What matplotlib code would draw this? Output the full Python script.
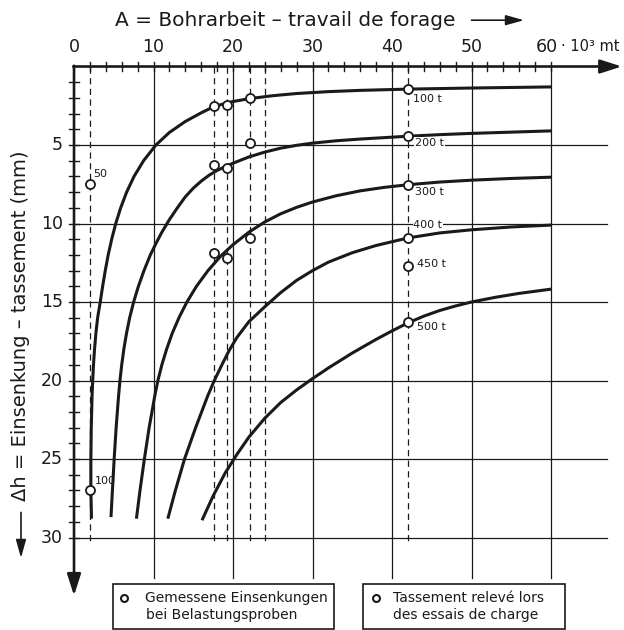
import matplotlib
matplotlib.use("Agg")
import matplotlib.pyplot as plt
from matplotlib.patches import Rectangle

plt.rcParams['font.family'] = ['DejaVu Sans']

# ---------------- data (A in 10^3 mt, settlement in mm) ----------------
x_tick_values = [0, 10, 20, 30, 40, 50, 60]
x_unit_label = "· 10³ mt"
y_tick_values = [5, 10, 15, 20, 25, 30]

c100_x = [2.2, 2.12, 2.12, 2.17, 2.27, 2.35, 2.45, 2.58, 2.75, 2.97, 3.3, 3.6, 3.93, 4.3, 4.74,
          5.25, 5.87, 6.62, 7.55, 8.75, 10.3, 12.0, 14.0, 16.0, 17.0, 18.0, 19.0, 20.0, 22.0,
          25.0, 28.0, 32.0, 36.0, 42.0, 50.0, 60.0]
c100_y = [28.8, 27.0, 25.0, 23.0, 21.0, 20.0, 19.0, 18.0, 17.0, 16.0, 15.0, 14.0, 13.0, 12.0, 11.0,
          10.0, 9.0, 8.0, 7.0, 6.0, 5.0, 4.2, 3.5, 2.95, 2.7, 2.5, 2.35, 2.23, 2.05,
          1.86, 1.72, 1.6, 1.52, 1.44, 1.37, 1.3]

c200_x = [4.65, 4.83, 5.05, 5.3, 5.6, 5.78, 6.0, 6.27, 6.6, 7.0, 7.5, 8.1, 8.8, 9.6, 10.3,
          11.0, 12.0, 13.0, 14.0, 15.0, 16.0, 17.0, 18.0, 19.0, 20.0, 22.0, 24.0, 26.0, 28.0,
          30.0, 33.0, 36.0, 40.0, 42.0, 46.0, 50.0, 55.0, 60.0]
c200_y = [28.7, 27.0, 25.0, 23.0, 21.0, 20.0, 19.0, 18.0, 17.0, 16.0, 15.0, 14.0, 13.0, 12.0, 11.28,
          10.6, 9.75, 9.0, 8.3, 7.75, 7.3, 6.92, 6.62, 6.38, 6.16, 5.76, 5.45, 5.2, 5.02,
          4.88, 4.73, 4.62, 4.5, 4.44, 4.34, 4.26, 4.18, 4.1]

c300_x = [7.85, 8.3, 8.85, 9.45, 10.15, 10.55, 11.05, 11.65, 12.35, 13.2, 14.2, 15.4, 16.85,
          18.5, 20.0, 22.0, 24.0, 26.0, 28.0, 30.0, 33.0, 36.0, 39.0, 42.0, 46.0, 50.0, 55.0, 60.0]
c300_y = [28.8, 27.0, 25.0, 23.0, 21.0, 20.0, 19.0, 18.0, 17.0, 16.0, 15.0, 14.0, 13.0,
          12.05, 11.35, 10.55, 9.9, 9.38, 8.97, 8.63, 8.23, 7.92, 7.7, 7.53, 7.36, 7.24, 7.13, 7.05]

c400_x = [11.8, 12.75, 13.9, 15.3, 16.8, 17.65, 18.6, 19.5, 20.5, 22.0, 24.0, 26.0, 28.0, 30.0,
          32.0, 35.0, 38.0, 42.0, 46.0, 50.0, 55.0, 60.0]
c400_y = [28.8, 27.0, 25.0, 23.0, 21.0, 20.0, 19.0, 18.1, 17.25, 16.25, 15.3, 14.4, 13.62, 13.0,
          12.46, 11.86, 11.4, 10.92, 10.6, 10.4, 10.22, 10.1]

c500_x = [16.1, 17.5, 19.0, 20.5, 22.0, 24.0, 26.0, 28.0, 30.0, 32.0, 35.0, 38.0, 40.0, 42.0,
          44.0, 46.0, 48.0, 50.0, 53.0, 56.0, 60.0]
c500_y = [28.9, 27.35, 25.9, 24.7, 23.6, 22.4, 21.4, 20.6, 19.88, 19.2, 18.25, 17.38, 16.84, 16.33,
          15.9, 15.54, 15.25, 15.0, 14.7, 14.45, 14.18]

curve_labels = ["100 t", "200 t", "300 t", "400 t", "450 t", "500 t"]

meas_A = [2.0, 2.0, 17.6, 17.6, 17.6, 19.2, 19.2, 19.2, 22.1, 22.1, 22.1, 42.0, 42.0, 42.0, 42.0, 42.0, 42.0]
meas_dh = [7.5, 27.0, 2.5, 6.3, 11.9, 2.45, 6.45, 12.2, 2.0, 4.9, 10.9, 1.45, 4.42, 7.55, 10.9, 12.7, 16.3]
pile_labels = ["50", "100"]

dashed_A = [2.0, 17.6, 19.2, 22.1, 24.0, 42.0]

title = "A = Bohrarbeit – travail de forage"
ylabel = "Δh = Einsenkung – tassement (mm)"
legend_de = ["Gemessene Einsenkungen", "bei Belastungsproben"]
legend_fr = ["Tassement relevé lors", "des essais de charge"]

# ---------------- figure ----------------
K = '#1a1a1a'
fig = plt.figure(figsize=(6.24, 6.30), dpi=100)
ax = fig.add_axes([0, 0, 1, 1])
ax.set_xlim(-9.31, 69.18)
ax.set_ylim(35.89, -4.236)
ax.axis('off')

# grid
for xv in x_tick_values[1:]:
    ax.plot([xv, xv], [0, 32.6], color=K, lw=0.9, zorder=1)
for yv in y_tick_values:
    ax.plot([0, 67.0], [yv, yv], color=K, lw=0.9, zorder=1)

# dashed verticals
for xv in dashed_A:
    ax.plot([xv, xv], [0, 30.3], color=K, lw=0.9, ls=(0, (5, 3.5)), zorder=1)

# axes with arrows
arrow_kw = dict(arrowstyle='-|>,head_length=1.0,head_width=0.32', lw=1.9,
                color=K, mutation_scale=13, shrinkA=0, shrinkB=0)
ax.annotate('', xy=(68.9, 0), xytext=(-0.1, 0), arrowprops=arrow_kw, zorder=3)
ax.annotate('', xy=(0, 33.7), xytext=(0, -0.05), arrowprops=arrow_kw, zorder=3)

# ticks
for xv in range(2, 61, 2):
    ax.plot([xv, xv], [-0.3, 0.3], color=K, lw=1.0, zorder=3)
for yv in range(1, 31):
    ax.plot([-0.6, 0.6], [yv, yv], color=K, lw=1.0, zorder=3)

# tick labels
for xv in x_tick_values[:-1]:
    ax.text(xv, -1.25, str(xv), ha='center', va='center', fontsize=12.5, color=K)
ax.text(60.85, -1.25, str(x_tick_values[-1]), ha='right', va='center', fontsize=12.5, color=K)
ax.text(61.25, -1.25, x_unit_label, ha='left', va='center', fontsize=10.5, color=K)
for yv in y_tick_values:
    ax.text(-1.4, yv, str(yv), ha='right', va='center', fontsize=12.5, color=K)

# title and y label with arrows
small_arrow = dict(arrowstyle='-|>,head_length=1.0,head_width=0.28', lw=1.2,
                   color=K, mutation_scale=11, shrinkA=0, shrinkB=0)
ax.text(26.6, -2.95, title, ha='center', va='center', fontsize=14.5, color=K)
ax.annotate('', xy=(56.6, -2.95), xytext=(50.0, -2.95), arrowprops=small_arrow)
ax.text(-6.67, 16.5, ylabel, rotation=90, ha='center', va='center', fontsize=14, color=K)
ax.annotate('', xy=(-6.67, 31.3), xytext=(-6.67, 28.4), arrowprops=small_arrow)

# curves
for cx, cy in [(c100_x, c100_y), (c200_x, c200_y), (c300_x, c300_y),
               (c400_x, c400_y), (c500_x, c500_y)]:
    ax.plot(cx, cy, color=K, lw=2.2, solid_capstyle='butt', solid_joinstyle='round', zorder=4)

# measured points
ax.plot(meas_A, meas_dh, ls='none', marker='o', ms=6.5, mfc='white', mec=K, mew=1.3, zorder=6)

# curve labels
lab_pos = [(42.6, 2.05), (42.9, 4.85), (42.9, 8.0), (42.7, 10.1), (43.1, 12.55), (43.1, 16.6)]
for (lx, ly), t in zip(lab_pos, curve_labels):
    ax.text(lx, ly, t, ha='left', va='center', fontsize=8, color=K, zorder=5,
            bbox=dict(facecolor='white', edgecolor='none', pad=0.6))
ax.text(2.4, 6.85, pile_labels[0], ha='left', va='center', fontsize=8, color=K, zorder=5)
ax.text(2.6, 26.4, pile_labels[1], ha='left', va='center', fontsize=8, color=K, zorder=5)

# legend boxes
ax.add_patch(Rectangle((4.9, 32.96), 27.8, 2.87, fill=False, ec=K, lw=1.2, zorder=5))
ax.add_patch(Rectangle((36.35, 32.96), 25.4, 2.87, fill=False, ec=K, lw=1.2, zorder=5))
ax.plot([6.3], [33.85], marker='o', ms=5, mfc='white', mec=K, mew=1.5, zorder=6)
ax.plot([37.95], [33.85], marker='o', ms=5, mfc='white', mec=K, mew=1.5, zorder=6)
ax.text(8.9, 33.85, legend_de[0], ha='left', va='center', fontsize=10, color=K)
ax.text(9.1, 34.95, legend_de[1], ha='left', va='center', fontsize=10, color=K)
ax.text(40.1, 33.85, legend_fr[0], ha='left', va='center', fontsize=10, color=K)
ax.text(40.1, 34.95, legend_fr[1], ha='left', va='center', fontsize=10, color=K)

fig.savefig('out.png', dpi=100, facecolor='white')
